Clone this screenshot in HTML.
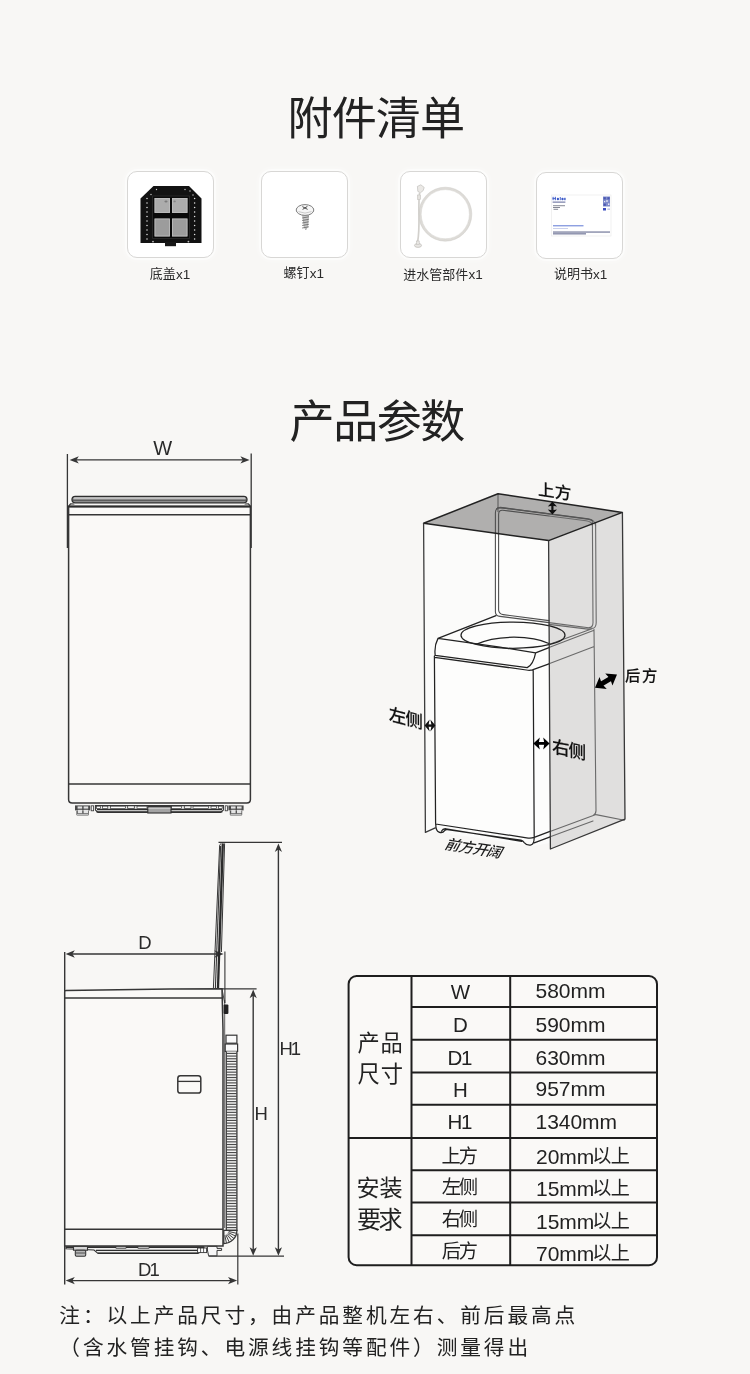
<!DOCTYPE html>
<html lang="zh-CN"><head><meta charset="utf-8"><title>附件清单 / 产品参数</title>
<style>
html,body{margin:0;padding:0;background:#f8f7f5;}
body{width:750px;height:1374px;position:relative;overflow:hidden;font-family:"Liberation Sans","Noto Sans CJK SC",sans-serif;}
ul{margin:0;padding:0;list-style:none;}
.card{position:absolute;width:87px;height:87px;background:#fff;border:1.5px solid #d8d7d5;border-radius:10px;box-shadow:0 0 0 2px rgba(255,255,255,.45),0 0 7px 2px rgba(255,255,255,.5);box-sizing:border-box;}
.sr{position:absolute;width:1px;height:1px;margin:-1px;padding:0;overflow:hidden;clip:rect(0 0 0 0);clip-path:inset(50%);white-space:nowrap;border:0;font-size:1px;color:transparent;}
svg.main{position:absolute;left:0;top:0;will-change:transform;}
svg text{font-family:"Liberation Sans","Noto Sans CJK SC",sans-serif;}
</style></head><body>
<section aria-label="附件清单"><h1 class="sr">附件清单</h1><ul><li class="card" style="left:127.4px;top:171.3px"><span class="sr">底盖x1</span></li><li class="card" style="left:261.4px;top:171.3px"><span class="sr">螺钉x1</span></li><li class="card" style="left:400.2px;top:171.3px"><span class="sr">进水管部件x1</span></li><li class="card" style="left:536.4px;top:171.8px"><span class="sr">说明书x1</span></li></ul></section>
<section aria-label="产品参数"><h1 class="sr">产品参数</h1><table class="sr"><caption>产品参数</caption>
<tr><th rowspan="5">产品尺寸</th><td>W</td><td>580mm</td></tr>
<tr><td>D</td><td>590mm</td></tr><tr><td>D1</td><td>630mm</td></tr>
<tr><td>H</td><td>957mm</td></tr><tr><td>H1</td><td>1340mm</td></tr>
<tr><th rowspan="4">安装要求</th><td>上方</td><td>20mm以上</td></tr>
<tr><td>左侧</td><td>15mm以上</td></tr><tr><td>右侧</td><td>15mm以上</td></tr>
<tr><td>后方</td><td>70mm以上</td></tr></table>
<p class="sr">注：以上产品尺寸，由产品整机左右、前后最高点（含水管挂钩、电源线挂钩等配件）测量得出</p></section>
<svg class="main" role="img" aria-label="附件清单与产品参数示意图" width="750" height="1374" viewBox="0 0 750 1374">
<text x="287.46" y="135.39" font-size="45.11" fill="#222" textLength="177.65" lengthAdjust="spacing">附件清单</text>
<text x="289.62" y="438.08" font-size="45.06" fill="#222" textLength="175.64" lengthAdjust="spacing">产品参数</text>
<text x="149.80" y="278.46" font-size="13" fill="#2b2b2b">底盖</text>
<text x="176.0" y="278.7" font-size="13.5" fill="#2b2b2b" textLength="14.26" lengthAdjust="spacing">x1</text>
<text x="283.47" y="277.39" font-size="13" fill="#2b2b2b">螺钉</text>
<text x="309.67" y="277.9" font-size="13.5" fill="#2b2b2b" textLength="14.26" lengthAdjust="spacing">x1</text>
<text x="403.31" y="278.97" font-size="13" fill="#2b2b2b">进水管部件</text>
<text x="468.51" y="279.4" font-size="13.5" fill="#2b2b2b" textLength="14.26" lengthAdjust="spacing">x1</text>
<text x="553.91" y="278.21" font-size="13" fill="#2b2b2b">说明书</text>
<text x="593.12" y="278.7" font-size="13.5" fill="#2b2b2b" textLength="14.26" lengthAdjust="spacing">x1</text>
<path d="M153.5,186 L189,186 L201.5,198.5 L201.5,243 L140.5,243 L140.5,198.5 Z" fill="#121212"/><rect x="165" y="242" width="11" height="4.2" fill="#181818"/><rect x="152.6" y="196" width="36.8" height="42.4" fill="#0a0a0a" stroke="#2e2e2e" stroke-width="0.8"/><rect x="154.5" y="198" width="15.5" height="15" fill="#acacac"/><rect x="155.0" y="198.5" width="14.5" height="14" fill="none" stroke="#c2c2c2" stroke-width="0.7"/><rect x="172" y="198" width="15.5" height="15" fill="#acacac"/><rect x="172.5" y="198.5" width="14.5" height="14" fill="none" stroke="#c2c2c2" stroke-width="0.7"/><rect x="154.5" y="218.5" width="15.5" height="18" fill="#9c9c9c"/><rect x="155.0" y="219.0" width="14.5" height="17" fill="none" stroke="#c2c2c2" stroke-width="0.7"/><rect x="172" y="218.5" width="15.5" height="18" fill="#9c9c9c"/><rect x="172.5" y="219.0" width="14.5" height="17" fill="none" stroke="#c2c2c2" stroke-width="0.7"/><ellipse cx="166" cy="201.6" rx="1.6" ry="1" fill="#7c7c7c"/><ellipse cx="174.6" cy="201.4" rx="1.2" ry="0.9" fill="#858585"/><circle cx="147" cy="198.6" r="0.75" fill="#e2e2e2"/><circle cx="194.6" cy="198.6" r="0.75" fill="#e2e2e2"/><circle cx="147" cy="203.1" r="0.75" fill="#e2e2e2"/><circle cx="194.6" cy="203.1" r="0.75" fill="#e2e2e2"/><circle cx="147" cy="207.6" r="0.75" fill="#e2e2e2"/><circle cx="194.6" cy="207.6" r="0.75" fill="#e2e2e2"/><circle cx="147" cy="212.1" r="0.75" fill="#e2e2e2"/><circle cx="194.6" cy="212.1" r="0.75" fill="#e2e2e2"/><circle cx="147" cy="216.6" r="0.75" fill="#e2e2e2"/><circle cx="194.6" cy="216.6" r="0.75" fill="#e2e2e2"/><circle cx="147" cy="221.1" r="0.75" fill="#e2e2e2"/><circle cx="194.6" cy="221.1" r="0.75" fill="#e2e2e2"/><circle cx="147" cy="225.6" r="0.75" fill="#e2e2e2"/><circle cx="194.6" cy="225.6" r="0.75" fill="#e2e2e2"/><circle cx="147" cy="230.1" r="0.75" fill="#e2e2e2"/><circle cx="194.6" cy="230.1" r="0.75" fill="#e2e2e2"/><circle cx="147" cy="234.6" r="0.75" fill="#e2e2e2"/><circle cx="194.6" cy="234.6" r="0.75" fill="#e2e2e2"/><circle cx="147" cy="239.1" r="0.75" fill="#e2e2e2"/><circle cx="194.6" cy="239.1" r="0.75" fill="#e2e2e2"/><circle cx="156.5" cy="189.5" r="0.7" fill="#cfcfcf"/><circle cx="151" cy="194.5" r="0.7" fill="#cfcfcf"/><circle cx="185" cy="189.5" r="0.7" fill="#cfcfcf"/><circle cx="190" cy="191" r="0.7" fill="#cfcfcf"/><circle cx="193" cy="195" r="0.7" fill="#cfcfcf"/><circle cx="153" cy="241.6" r="0.9" fill="#bdbdbd"/><circle cx="188.4" cy="241.6" r="0.9" fill="#bdbdbd"/>
<path d="M302.6,215 L308.6,215 L307.6,226.6 L305.8,230 L304.2,226.6 Z" fill="#c9c9c9" stroke="#9a9a9a" stroke-width="0.6"/><line x1="302.2" y1="218.0" x2="308.8" y2="216.8" stroke="#6f6f6f" stroke-width="0.9"/><line x1="302.2" y1="220.5" x2="308.8" y2="219.3" stroke="#6f6f6f" stroke-width="0.9"/><line x1="302.2" y1="223.0" x2="308.8" y2="221.8" stroke="#6f6f6f" stroke-width="0.9"/><line x1="302.2" y1="225.5" x2="308.8" y2="224.3" stroke="#6f6f6f" stroke-width="0.9"/><line x1="302.2" y1="228.0" x2="308.8" y2="226.8" stroke="#6f6f6f" stroke-width="0.9"/><ellipse cx="305" cy="210" rx="8.8" ry="5.4" fill="#f6f6f6" stroke="#7d7d7d" stroke-width="1"/><path d="M298.4,211.6 Q305,214.6 311.6,211.6" fill="none" stroke="#bdbdbd" stroke-width="0.8"/><path d="M302.4,206.6 L307.6,209.4 M307.4,206.4 L302.6,209.4" stroke="#4a4a4a" stroke-width="1"/>
<ellipse cx="445.3" cy="214.2" rx="25.3" ry="25.8" fill="none" stroke="#dddbd7" stroke-width="2.3"/><ellipse cx="445.3" cy="214.2" rx="26.5" ry="27" fill="none" stroke="#c9c7c3" stroke-width="0.45"/><ellipse cx="445.3" cy="214.2" rx="24.1" ry="24.6" fill="none" stroke="#cfcdc9" stroke-width="0.45"/><path d="M419.6,193 C417.6,206 420.6,226 417.6,242" fill="none" stroke="#d2d0cc" stroke-width="1.7"/><path d="M417.4,186.4 l3.4,-1.6 l3.4,2.6 l-1,3.2 l-2.8,2.2 l-2.6,-1.4 z" fill="#ebe9e6" stroke="#b9b7b3" stroke-width="0.6"/><rect x="417.4" y="195" width="3.2" height="4.6" fill="#e4e2de" stroke="#c0beba" stroke-width="0.5"/><ellipse cx="418" cy="245.4" rx="3.5" ry="2" fill="#e8e6e3" stroke="#b5b3af" stroke-width="0.6"/><rect x="416.6" y="241" width="2.6" height="3.4" fill="#e8e6e3" stroke="#bbb9b5" stroke-width="0.5"/>
<rect x="551.5" y="195" width="59.5" height="41" fill="#fff" stroke="#ececec" stroke-width="0.7"/><g fill="#3a58c8"><rect x="552.6" y="196.8" width="1" height="3.4"/><rect x="554.8" y="196.8" width="1" height="3.4"/><rect x="552.6" y="198.1" width="3.2" height="0.8"/><rect x="556.8" y="197.8" width="2.2" height="2.4" rx="1"/><rect x="559.8" y="197" width="0.9" height="3.2"/><rect x="561.4" y="197.8" width="2.2" height="2.4" rx="1"/><rect x="564.2" y="197.8" width="1.4" height="2.4"/></g><rect x="552.6" y="201.6" width="12.8" height="1" fill="#5a6296"/><rect x="553" y="205.3" width="12" height="0.9" fill="#777a88"/><rect x="553" y="207" width="7" height="0.9" fill="#777a88"/><rect x="553.5" y="208.8" width="4.6" height="0.9" fill="#777a88"/><rect x="603" y="196.5" width="7" height="10" fill="#7f8bcb"/><rect x="603.6" y="197.2" width="2.2" height="2.2" fill="#4a58b2"/><rect x="607.4" y="197.2" width="2.2" height="2.2" fill="#4a58b2"/><rect x="603.6" y="203.6" width="2.2" height="2.2" fill="#4a58b2"/><rect x="606.2" y="200.2" width="1.6" height="1.6" fill="#e8eaf6"/><rect x="604" y="201" width="1.2" height="1.2" fill="#e8eaf6"/><rect x="608" y="203.4" width="1.4" height="1.6" fill="#e8eaf6"/><rect x="603" y="208" width="3" height="2.5" fill="#3b4cc0"/><rect x="607.4" y="208.4" width="2.6" height="1.6" fill="#c5c9e6"/><rect x="553" y="225.3" width="30.5" height="1" fill="#5f78d4"/><rect x="553" y="228" width="15" height="0.7" fill="#b4bce4"/><rect x="553" y="231.5" width="57" height="1.1" fill="#666c90"/><rect x="553" y="233.3" width="33" height="1.1" fill="#666c90"/>
<line x1="67.4" y1="454" x2="67.4" y2="548" stroke="#363636" stroke-width="1.3"/><line x1="251.2" y1="453.6" x2="251.2" y2="548" stroke="#363636" stroke-width="1.3"/><line x1="75.12" y1="459.90" x2="244.08" y2="459.90" stroke="#363636" stroke-width="1.4"/><path d="M249.60,459.90 L240.40,463.60 L242.80,459.90 L240.40,456.20 Z" fill="#363636"/><path d="M69.60,459.90 L78.80,463.60 L76.40,459.90 L78.80,456.20 Z" fill="#363636"/><text x="162.8" y="455.2" font-size="20" fill="#2a2a2a" text-anchor="middle">W</text><path d="M68.6,506.5 L250.4,506.5 L250.4,799.5 Q250.4,803 246.8,803 L72.2,803 Q68.6,803 68.6,799.5 Z" fill="#faf9f7" stroke="#363636" stroke-width="1.5"/><line x1="68.2" y1="506.5" x2="250.8" y2="506.5" stroke="#2c2c2c" stroke-width="1.9"/><line x1="68.6" y1="514.8" x2="250.4" y2="514.8" stroke="#363636" stroke-width="1.4"/><line x1="68.6" y1="784" x2="250.4" y2="784" stroke="#363636" stroke-width="1.6"/><rect x="72" y="496.4" width="175" height="6.4" rx="3.2" fill="#8c8c8c" stroke="#2e2e2e" stroke-width="1.3"/><rect x="73.6" y="497.2" width="171.8" height="2.4" rx="1.2" fill="#c2c2c2"/><line x1="73" y1="500.2" x2="246" y2="500.2" stroke="#484848" stroke-width="1"/><path d="M68.8,506 L70.6,503.8 L74.4,504 M250.2,506 L248.4,503.8 L244.6,504" fill="none" stroke="#363636" stroke-width="1.2"/><rect x="75" y="805.4" width="15.2" height="5" fill="#4a4a4a"/><rect x="76.4" y="810.4" width="12.4" height="5.2" rx="1" fill="#555"/><rect x="77.6" y="806.4" width="4.6" height="2.2" fill="#e4e4e4"/><rect x="83.6" y="806.4" width="4.6" height="2.2" fill="#e4e4e4"/><rect x="77.8" y="809.8" width="4.4" height="3.4" fill="#e4e4e4"/><rect x="83.6" y="809.8" width="4.4" height="3.4" fill="#e4e4e4"/><rect x="77" y="813.8" width="11.2" height="1.4" fill="#bdbdbd"/><rect x="228.4" y="805.4" width="15.2" height="5" fill="#4a4a4a"/><rect x="229.8" y="810.4" width="12.4" height="5.2" rx="1" fill="#555"/><rect x="231.0" y="806.4" width="4.6" height="2.2" fill="#e4e4e4"/><rect x="237.0" y="806.4" width="4.6" height="2.2" fill="#e4e4e4"/><rect x="231.2" y="809.8" width="4.4" height="3.4" fill="#e4e4e4"/><rect x="237.0" y="809.8" width="4.4" height="3.4" fill="#e4e4e4"/><rect x="230.4" y="813.8" width="11.2" height="1.4" fill="#bdbdbd"/><rect x="91.2" y="805.8" width="2.4" height="5" fill="#f4f4f4" stroke="#363636" stroke-width="0.8"/><rect x="225.2" y="805.8" width="2.4" height="5" fill="#f4f4f4" stroke="#363636" stroke-width="0.8"/><path d="M95.4,805.6 L223.4,805.6 L223.4,810 L220.6,812.4 L98,812.4 L95.4,810 Z" fill="#f4f4f3" stroke="#363636" stroke-width="1.1"/><line x1="97" y1="809.4" x2="222" y2="809.4" stroke="#2e2e2e" stroke-width="1.5"/><line x1="96.4" y1="811.9" x2="222.4" y2="811.9" stroke="#2e2e2e" stroke-width="1.2"/><rect x="96.6" y="806.2" width="3.8000000000000114" height="2.4" fill="#fdfdfd" stroke="#363636" stroke-width="0.7"/><rect x="102.4" y="806.2" width="5.3999999999999915" height="2.4" fill="#fdfdfd" stroke="#363636" stroke-width="0.7"/><rect x="110.4" y="806.2" width="15.199999999999989" height="2.4" fill="#fdfdfd" stroke="#363636" stroke-width="0.7"/><rect x="137" y="806.2" width="10" height="2.4" fill="#fdfdfd" stroke="#363636" stroke-width="0.7"/><rect x="171.6" y="806.2" width="10.0" height="2.4" fill="#fdfdfd" stroke="#363636" stroke-width="0.7"/><rect x="193" y="806.2" width="15.400000000000006" height="2.4" fill="#fdfdfd" stroke="#363636" stroke-width="0.7"/><rect x="211" y="806.2" width="5.400000000000006" height="2.4" fill="#fdfdfd" stroke="#363636" stroke-width="0.7"/><rect x="218.4" y="806.2" width="3.799999999999983" height="2.4" fill="#fdfdfd" stroke="#363636" stroke-width="0.7"/><path d="M127.6,806 L127.6,808.6 L134.4,808.6 L134.4,806 M184.4,806 L184.4,808.6 L191,808.6 L191,806" fill="none" stroke="#363636" stroke-width="0.8"/><rect x="147.8" y="806.6" width="23.2" height="6.4" fill="#a4a4a4" stroke="#2e2e2e" stroke-width="1.1"/><line x1="148.4" y1="808.4" x2="170.4" y2="808.4" stroke="#d0d0d0" stroke-width="0.9"/>
<line x1="218.5" y1="842.4" x2="282" y2="842.4" stroke="#363636" stroke-width="1.3"/><line x1="278.40" y1="848.56" x2="278.40" y2="1250.64" stroke="#363636" stroke-width="1.4"/><path d="M278.40,1255.80 L274.80,1247.20 L278.40,1249.60 L282.00,1247.20 Z" fill="#363636"/><path d="M278.40,843.40 L274.80,852.00 L278.40,849.60 L282.00,852.00 Z" fill="#363636"/><line x1="222" y1="988.8" x2="256.6" y2="988.8" stroke="#363636" stroke-width="1.3"/><line x1="253.20" y1="994.76" x2="253.20" y2="1250.64" stroke="#363636" stroke-width="1.4"/><path d="M253.20,1255.80 L249.60,1247.20 L253.20,1249.60 L256.80,1247.20 Z" fill="#363636"/><path d="M253.20,989.60 L249.60,998.20 L253.20,995.80 L256.80,998.20 Z" fill="#363636"/><line x1="208.6" y1="1256.2" x2="284" y2="1256.2" stroke="#363636" stroke-width="1.3"/><text x="279.4" y="1054.8" font-size="18.5" fill="#2a2a2a" textLength="21.75" lengthAdjust="spacing">H1</text><text x="254.6" y="1119.8" font-size="18.5" fill="#2a2a2a">H</text><line x1="71.12" y1="954.00" x2="218.08" y2="954.00" stroke="#363636" stroke-width="1.4"/><path d="M223.60,954.00 L214.40,957.70 L216.80,954.00 L214.40,950.30 Z" fill="#363636"/><path d="M65.60,954.00 L74.80,957.70 L72.40,954.00 L74.80,950.30 Z" fill="#363636"/><line x1="224.9" y1="951.4" x2="224.9" y2="1003" stroke="#363636" stroke-width="1.1"/><path d="M222,989 L224.7,1003" stroke="#363636" stroke-width="0.9"/><text x="145" y="948.6" font-size="18.5" fill="#2a2a2a" text-anchor="middle">D</text><line x1="71.12" y1="1280.60" x2="231.68" y2="1280.60" stroke="#363636" stroke-width="1.4"/><path d="M237.20,1280.60 L228.00,1284.30 L230.40,1280.60 L228.00,1276.90 Z" fill="#363636"/><path d="M65.60,1280.60 L74.80,1284.30 L72.40,1280.60 L74.80,1276.90 Z" fill="#363636"/><line x1="237.8" y1="1233.4" x2="237.8" y2="1284.4" stroke="#363636" stroke-width="1.2"/><text x="138" y="1275.8" font-size="18.5" fill="#2a2a2a" textLength="21.75" lengthAdjust="spacing">D1</text><path d="M64.7,952 L64.7,1284.4" stroke="#363636" stroke-width="1.4"/><path d="M64.7,991.6 Q64.7,990.4 66,990.4 L170,989 L222,988.8 L223,1030 L223,1246 L64.7,1246 Z" fill="#faf9f7" stroke="#363636" stroke-width="1.5"/><line x1="64.7" y1="998" x2="223" y2="998" stroke="#363636" stroke-width="1.4"/><line x1="64.7" y1="1229.2" x2="223" y2="1229.2" stroke="#363636" stroke-width="1.4"/><line x1="224.7" y1="1000" x2="224.7" y2="1228" stroke="#363636" stroke-width="0.8"/><path d="M222.8,843.4 L218,988" stroke="#2a2a2a" stroke-width="2.3"/><path d="M221.2,843.5 Q219.8,844 219.6,846 L213.4,988" fill="none" stroke="#363636" stroke-width="1"/><path d="M224.6,843.4 L221.4,952" stroke="#363636" stroke-width="1"/><path d="M220.6,846 L215.4,988" stroke="#363636" stroke-width="1.1"/><rect x="177.8" y="1075.8" width="23" height="17.2" rx="2.6" fill="none" stroke="#363636" stroke-width="1.5"/><line x1="178" y1="1081.4" x2="200.6" y2="1081.4" stroke="#363636" stroke-width="1.3"/><rect x="223.6" y="1004.5" width="4.8" height="9.5" rx="1" fill="#222"/><rect x="226" y="1035.2" width="10.9" height="8" fill="#fafafa" stroke="#363636" stroke-width="1.2"/><rect x="225.2" y="1044" width="12.4" height="7.4" fill="#fafafa" stroke="#363636" stroke-width="1.2"/><rect x="226.3" y="1051.4" width="10.5" height="179" fill="#f4f4f3" stroke="none"/><line x1="226.6" y1="1053.40" x2="236.6" y2="1053.40" stroke="#4a4a4a" stroke-width="1.15"/><line x1="226.6" y1="1056.08" x2="236.6" y2="1056.08" stroke="#4a4a4a" stroke-width="1.15"/><line x1="226.6" y1="1058.76" x2="236.6" y2="1058.76" stroke="#4a4a4a" stroke-width="1.15"/><line x1="226.6" y1="1061.44" x2="236.6" y2="1061.44" stroke="#4a4a4a" stroke-width="1.15"/><line x1="226.6" y1="1064.12" x2="236.6" y2="1064.12" stroke="#4a4a4a" stroke-width="1.15"/><line x1="226.6" y1="1066.80" x2="236.6" y2="1066.80" stroke="#4a4a4a" stroke-width="1.15"/><line x1="226.6" y1="1069.48" x2="236.6" y2="1069.48" stroke="#4a4a4a" stroke-width="1.15"/><line x1="226.6" y1="1072.16" x2="236.6" y2="1072.16" stroke="#4a4a4a" stroke-width="1.15"/><line x1="226.6" y1="1074.84" x2="236.6" y2="1074.84" stroke="#4a4a4a" stroke-width="1.15"/><line x1="226.6" y1="1077.52" x2="236.6" y2="1077.52" stroke="#4a4a4a" stroke-width="1.15"/><line x1="226.6" y1="1080.20" x2="236.6" y2="1080.20" stroke="#4a4a4a" stroke-width="1.15"/><line x1="226.6" y1="1082.88" x2="236.6" y2="1082.88" stroke="#4a4a4a" stroke-width="1.15"/><line x1="226.6" y1="1085.56" x2="236.6" y2="1085.56" stroke="#4a4a4a" stroke-width="1.15"/><line x1="226.6" y1="1088.24" x2="236.6" y2="1088.24" stroke="#4a4a4a" stroke-width="1.15"/><line x1="226.6" y1="1090.92" x2="236.6" y2="1090.92" stroke="#4a4a4a" stroke-width="1.15"/><line x1="226.6" y1="1093.60" x2="236.6" y2="1093.60" stroke="#4a4a4a" stroke-width="1.15"/><line x1="226.6" y1="1096.28" x2="236.6" y2="1096.28" stroke="#4a4a4a" stroke-width="1.15"/><line x1="226.6" y1="1098.96" x2="236.6" y2="1098.96" stroke="#4a4a4a" stroke-width="1.15"/><line x1="226.6" y1="1101.64" x2="236.6" y2="1101.64" stroke="#4a4a4a" stroke-width="1.15"/><line x1="226.6" y1="1104.32" x2="236.6" y2="1104.32" stroke="#4a4a4a" stroke-width="1.15"/><line x1="226.6" y1="1107.00" x2="236.6" y2="1107.00" stroke="#4a4a4a" stroke-width="1.15"/><line x1="226.6" y1="1109.68" x2="236.6" y2="1109.68" stroke="#4a4a4a" stroke-width="1.15"/><line x1="226.6" y1="1112.36" x2="236.6" y2="1112.36" stroke="#4a4a4a" stroke-width="1.15"/><line x1="226.6" y1="1115.04" x2="236.6" y2="1115.04" stroke="#4a4a4a" stroke-width="1.15"/><line x1="226.6" y1="1117.72" x2="236.6" y2="1117.72" stroke="#4a4a4a" stroke-width="1.15"/><line x1="226.6" y1="1120.40" x2="236.6" y2="1120.40" stroke="#4a4a4a" stroke-width="1.15"/><line x1="226.6" y1="1123.08" x2="236.6" y2="1123.08" stroke="#4a4a4a" stroke-width="1.15"/><line x1="226.6" y1="1125.76" x2="236.6" y2="1125.76" stroke="#4a4a4a" stroke-width="1.15"/><line x1="226.6" y1="1128.44" x2="236.6" y2="1128.44" stroke="#4a4a4a" stroke-width="1.15"/><line x1="226.6" y1="1131.12" x2="236.6" y2="1131.12" stroke="#4a4a4a" stroke-width="1.15"/><line x1="226.6" y1="1133.80" x2="236.6" y2="1133.80" stroke="#4a4a4a" stroke-width="1.15"/><line x1="226.6" y1="1136.48" x2="236.6" y2="1136.48" stroke="#4a4a4a" stroke-width="1.15"/><line x1="226.6" y1="1139.16" x2="236.6" y2="1139.16" stroke="#4a4a4a" stroke-width="1.15"/><line x1="226.6" y1="1141.84" x2="236.6" y2="1141.84" stroke="#4a4a4a" stroke-width="1.15"/><line x1="226.6" y1="1144.52" x2="236.6" y2="1144.52" stroke="#4a4a4a" stroke-width="1.15"/><line x1="226.6" y1="1147.20" x2="236.6" y2="1147.20" stroke="#4a4a4a" stroke-width="1.15"/><line x1="226.6" y1="1149.88" x2="236.6" y2="1149.88" stroke="#4a4a4a" stroke-width="1.15"/><line x1="226.6" y1="1152.56" x2="236.6" y2="1152.56" stroke="#4a4a4a" stroke-width="1.15"/><line x1="226.6" y1="1155.24" x2="236.6" y2="1155.24" stroke="#4a4a4a" stroke-width="1.15"/><line x1="226.6" y1="1157.92" x2="236.6" y2="1157.92" stroke="#4a4a4a" stroke-width="1.15"/><line x1="226.6" y1="1160.60" x2="236.6" y2="1160.60" stroke="#4a4a4a" stroke-width="1.15"/><line x1="226.6" y1="1163.28" x2="236.6" y2="1163.28" stroke="#4a4a4a" stroke-width="1.15"/><line x1="226.6" y1="1165.96" x2="236.6" y2="1165.96" stroke="#4a4a4a" stroke-width="1.15"/><line x1="226.6" y1="1168.64" x2="236.6" y2="1168.64" stroke="#4a4a4a" stroke-width="1.15"/><line x1="226.6" y1="1171.32" x2="236.6" y2="1171.32" stroke="#4a4a4a" stroke-width="1.15"/><line x1="226.6" y1="1174.00" x2="236.6" y2="1174.00" stroke="#4a4a4a" stroke-width="1.15"/><line x1="226.6" y1="1176.68" x2="236.6" y2="1176.68" stroke="#4a4a4a" stroke-width="1.15"/><line x1="226.6" y1="1179.36" x2="236.6" y2="1179.36" stroke="#4a4a4a" stroke-width="1.15"/><line x1="226.6" y1="1182.04" x2="236.6" y2="1182.04" stroke="#4a4a4a" stroke-width="1.15"/><line x1="226.6" y1="1184.72" x2="236.6" y2="1184.72" stroke="#4a4a4a" stroke-width="1.15"/><line x1="226.6" y1="1187.40" x2="236.6" y2="1187.40" stroke="#4a4a4a" stroke-width="1.15"/><line x1="226.6" y1="1190.08" x2="236.6" y2="1190.08" stroke="#4a4a4a" stroke-width="1.15"/><line x1="226.6" y1="1192.76" x2="236.6" y2="1192.76" stroke="#4a4a4a" stroke-width="1.15"/><line x1="226.6" y1="1195.44" x2="236.6" y2="1195.44" stroke="#4a4a4a" stroke-width="1.15"/><line x1="226.6" y1="1198.12" x2="236.6" y2="1198.12" stroke="#4a4a4a" stroke-width="1.15"/><line x1="226.6" y1="1200.80" x2="236.6" y2="1200.80" stroke="#4a4a4a" stroke-width="1.15"/><line x1="226.6" y1="1203.48" x2="236.6" y2="1203.48" stroke="#4a4a4a" stroke-width="1.15"/><line x1="226.6" y1="1206.16" x2="236.6" y2="1206.16" stroke="#4a4a4a" stroke-width="1.15"/><line x1="226.6" y1="1208.84" x2="236.6" y2="1208.84" stroke="#4a4a4a" stroke-width="1.15"/><line x1="226.6" y1="1211.52" x2="236.6" y2="1211.52" stroke="#4a4a4a" stroke-width="1.15"/><line x1="226.6" y1="1214.20" x2="236.6" y2="1214.20" stroke="#4a4a4a" stroke-width="1.15"/><line x1="226.6" y1="1216.88" x2="236.6" y2="1216.88" stroke="#4a4a4a" stroke-width="1.15"/><line x1="226.6" y1="1219.56" x2="236.6" y2="1219.56" stroke="#4a4a4a" stroke-width="1.15"/><line x1="226.6" y1="1222.24" x2="236.6" y2="1222.24" stroke="#4a4a4a" stroke-width="1.15"/><line x1="226.6" y1="1224.92" x2="236.6" y2="1224.92" stroke="#4a4a4a" stroke-width="1.15"/><line x1="226.6" y1="1227.60" x2="236.6" y2="1227.60" stroke="#4a4a4a" stroke-width="1.15"/><line x1="226.6" y1="1230.28" x2="236.6" y2="1230.28" stroke="#4a4a4a" stroke-width="1.15"/><line x1="226.3" y1="1051.4" x2="226.3" y2="1230" stroke="#363636" stroke-width="1.2"/><line x1="236.9" y1="1051.4" x2="236.9" y2="1231" stroke="#363636" stroke-width="1.3"/><path d="M236.9,1230.4 A13.1,13.1 0 0 1 223.8,1243.5 L223.8,1230.4 Z" fill="#f4f4f3" stroke="#363636" stroke-width="1.3"/><line x1="228.7" y1="1231.5" x2="236.6" y2="1233.3" stroke="#444" stroke-width="1"/><line x1="228.3" y1="1232.6" x2="235.6" y2="1236.1" stroke="#444" stroke-width="1"/><line x1="227.7" y1="1233.5" x2="234.0" y2="1238.6" stroke="#444" stroke-width="1"/><line x1="226.9" y1="1234.3" x2="231.9" y2="1240.7" stroke="#444" stroke-width="1"/><line x1="225.9" y1="1234.9" x2="229.3" y2="1242.3" stroke="#444" stroke-width="1"/><line x1="224.8" y1="1235.3" x2="226.5" y2="1243.2" stroke="#444" stroke-width="1"/><path d="M66,1247 L204,1247 L204,1250 L198,1253.4 L98,1253.4 L94,1250 L66,1248.8 Z" fill="#efefee" stroke="#363636" stroke-width="1.1"/><line x1="66" y1="1247.2" x2="204" y2="1247.2" stroke="#2e2e2e" stroke-width="1.5"/><line x1="96" y1="1250.4" x2="201" y2="1250.4" stroke="#2e2e2e" stroke-width="1.2"/><line x1="98" y1="1253.2" x2="198" y2="1253.2" stroke="#2e2e2e" stroke-width="1.3"/><rect x="116" y="1246.6" width="10" height="1.8" fill="#bbb" stroke="#363636" stroke-width="0.6"/><rect x="138" y="1246.6" width="11" height="1.8" fill="#bbb" stroke="#363636" stroke-width="0.6"/><rect x="73.5" y="1246.4" width="14" height="3.8" fill="#d6d6d6" stroke="#363636" stroke-width="1.1"/><rect x="75.3" y="1250.2" width="10.4" height="6" rx="1.2" fill="#b8b8b8" stroke="#363636" stroke-width="1.1"/><line x1="76" y1="1253" x2="85" y2="1253" stroke="#363636" stroke-width="0.8"/><path d="M207.4,1246.4 L217,1246.4 L217,1248.4 L221.6,1248.4 L221.6,1250.4 L217,1250.4 L217,1255.8 L208.6,1255.8 L207.4,1250 Z" fill="#f6f6f6" stroke="#363636" stroke-width="1"/><rect x="197.6" y="1248" width="9" height="4.6" fill="#fff" stroke="#363636" stroke-width="0.9"/><line x1="200.6" y1="1248" x2="200.6" y2="1252.6" stroke="#363636" stroke-width="0.8"/><line x1="203.6" y1="1248" x2="203.6" y2="1252.6" stroke="#363636" stroke-width="0.8"/>
<path d="M423.6,523.2 L548.6,540.6 L549.6,843 L534.4,846 L436,832 L425.4,832.4 Z" fill="#fbfbfa"/><path d="M434.4,656 Q434.4,645 438,638.4 L496,616 L496,512 L549,518 L549.6,832 L534.4,843 L436,824 Z" fill="#fdfdfc"/><path d="M423.6,523.2 L498,493.8 L622.4,512.4 L548.6,540.6 Z" fill="#b0afae"/><path d="M548.6,540.6 L622.4,512.4 L625,819.2 L550.4,849 Z" fill="#e0dfde"/><path d="M549,622.6 L592.4,628.2 M549,624.4 L590,629.4 M592.4,521.4 L593,622.6 Q593,627.6 589,627.6 M595.6,523 L596.2,622.4 Q596.2,628.6 591.6,628.4 M549,647.6 L593.4,630.4 M549,644.4 L592,628.8 M549,663.8 L594.2,646.4 M594,629.4 L596,810.6 Q596,814 593.2,815.4 M550,831.4 L596,814.4 M550.2,836.8 L593,821 M596,814.6 L624.4,820.2" fill="none" stroke="#6a6a6a" stroke-width="1.1" stroke-linecap="round"/><ellipse cx="513" cy="635.2" rx="52" ry="13.1" fill="none" stroke="#222" stroke-width="1.25"/><path d="M476,644.4 C488,638.8 500,637.2 514,637.2 C528,637.2 540,639.2 549.6,643.8" fill="none" stroke="#222" stroke-width="1.25"/><path d="M438,638.4 L496,615.6 M438,638.4 L500,647.2 L535.6,652.8 M535.6,652.8 C534.6,658 533.2,664.6 527.2,667.6 L435.2,655.4 Q434,646 438,638.4 M434.6,657.4 L526.4,670 Q530,670.6 532.4,669.8 L549,663.8 M535.6,652.8 L549,647.6 M434.4,656 L435.6,823.6 M533.2,670 L534.2,838 M435.6,824 L526.6,837.8 Q531,838.4 534.2,837.4 L550,831.4 M435.8,824 Q435.6,831 439,832.2 Q442.6,833.6 444.6,830.6 Q445.8,829.2 447.4,829.6 L521,840.2 Q523,840.6 524.2,842.6 Q526.6,845.6 530.4,845.2 Q534,844.6 534.2,838 M441.4,831.2 Q443,828.4 446,828.8 L521.8,841.4 M534.2,842.8 L550.2,836.8" fill="none" stroke="#222" stroke-width="1.25" stroke-linecap="round" stroke-linejoin="round"/><path d="M495.4,612 L495.4,513 Q495.4,507.4 500.4,507.6 L549,513.8 M498.6,610 L498.6,514.6 Q498.6,510 502.6,510.2 L549,516 M495.4,612 Q495.6,616 500,616.4 L549,622.6 M498.6,610 Q499,614 503.2,614.6 L549,620.6" fill="none" stroke="#505050" stroke-width="1.1" stroke-linecap="round" stroke-linejoin="round"/><path d="M549,513.8 L588,519 Q595.4,520 595.6,526 M549,516 L586,520.8 Q592.2,521.6 592.4,526" fill="none" stroke="#6a6a6a" stroke-width="1.1"/><path d="M498,494 L498,512" stroke="#555" stroke-width="1"/><path d="M496.6,509.4 Q497.6,507.6 500.4,507.6 L588,519 Q591,519.4 593,521" fill="none" stroke="#555" stroke-width="1.5"/><path d="M423.6,523.2 L498,493.8 L622.4,512.4 L548.6,540.6 Z" fill="none" stroke="#222" stroke-width="1.5" stroke-linejoin="round"/><path d="M548.6,540.6 L550.4,849 L625,819.2 L622.4,512.4" fill="none" stroke="#383838" stroke-width="1.3" stroke-linejoin="round"/><path d="M423.6,523.2 L425.4,832.4 L435.8,827.6" fill="none" stroke="#3c3c3c" stroke-width="1.3" stroke-linejoin="round"/><line x1="552.40" y1="504.52" x2="552.40" y2="511.48" stroke="#111" stroke-width="2.2"/><path d="M552.40,514.60 L547.80,509.40 L552.40,510.20 L557.00,509.40 Z" fill="#111"/><path d="M552.40,501.40 L547.80,506.60 L552.40,505.80 L557.00,506.60 Z" fill="#111"/><line x1="427.60" y1="725.60" x2="432.40" y2="725.60" stroke="#111" stroke-width="2.4"/><path d="M435.40,725.60 L430.40,731.60 L431.60,725.60 L430.40,719.60 Z" fill="#111"/><path d="M424.60,725.60 L429.60,731.60 L428.40,725.60 L429.60,719.60 Z" fill="#111"/><line x1="537.24" y1="743.40" x2="545.76" y2="743.40" stroke="#000" stroke-width="2.8"/><path d="M549.60,743.40 L543.20,749.40 L544.40,743.40 L543.20,737.40 Z" fill="#000"/><path d="M533.40,743.40 L539.80,749.40 L538.60,743.40 L539.80,737.40 Z" fill="#000"/><line x1="599.89" y1="684.87" x2="612.11" y2="677.53" stroke="#000" stroke-width="5"/><path d="M617.00,674.60 L612.46,685.49 L610.14,678.72 L605.25,673.49 Z" fill="#000"/><path d="M595.00,687.80 L606.75,688.91 L601.86,683.68 L599.54,676.91 Z" fill="#000"/>
<g transform="translate(554.5,491) skewY(8.5) translate(-554.5,-491)"><text x="538.00" y="497.56" font-size="16.58" font-weight="500" fill="#111" stroke="#111" stroke-width="0.12" textLength="33.36" lengthAdjust="spacing">上方</text></g>
<text x="624.99" y="680.67" font-size="15.3" font-weight="500" fill="#111" stroke="#111" stroke-width="0.11" textLength="32.29" lengthAdjust="spacing">后方</text>
<g transform="translate(405,717.5) skewY(14.5) translate(-405,-717.5)"><text x="388.78" y="724.12" font-size="17.44" font-weight="500" fill="#111" stroke="#111" stroke-width="0.12" textLength="34.08" lengthAdjust="spacing">左侧</text></g>
<g transform="translate(568.5,749) skewY(11.5) translate(-568.5,-749)"><text x="552.12" y="755.90" font-size="17.65" font-weight="500" fill="#111" stroke="#111" stroke-width="0.12" textLength="34.15" lengthAdjust="spacing">右侧</text></g>
<g transform="translate(475,848) skewY(9) skewX(-27) translate(-475,-848)"><text x="446.67" y="853.71" font-size="14.65" font-weight="500" fill="#1c1c1c" textLength="56.5" lengthAdjust="spacing">前方开阔</text></g>
<rect x="348.6" y="976" width="308.4" height="289.2" rx="8" fill="#faf9f7" stroke="#1e1e1e" stroke-width="2"/><line x1="411.5" y1="976" x2="411.5" y2="1265" stroke="#1e1e1e" stroke-width="2"/><line x1="510.2" y1="976" x2="510.2" y2="1265" stroke="#1e1e1e" stroke-width="2"/><line x1="411.5" y1="1007" x2="657" y2="1007" stroke="#1e1e1e" stroke-width="2"/><line x1="411.5" y1="1039.8" x2="657" y2="1039.8" stroke="#1e1e1e" stroke-width="2"/><line x1="411.5" y1="1072.4" x2="657" y2="1072.4" stroke="#1e1e1e" stroke-width="2"/><line x1="411.5" y1="1104.8" x2="657" y2="1104.8" stroke="#1e1e1e" stroke-width="2"/><line x1="411.5" y1="1170.2" x2="657" y2="1170.2" stroke="#1e1e1e" stroke-width="2"/><line x1="411.5" y1="1202.6" x2="657" y2="1202.6" stroke="#1e1e1e" stroke-width="2"/><line x1="411.5" y1="1235.2" x2="657" y2="1235.2" stroke="#1e1e1e" stroke-width="2"/><line x1="348.6" y1="1138" x2="657" y2="1138" stroke="#1e1e1e" stroke-width="2"/>
<text x="357.42" y="1050.67" font-size="22.2" fill="#222" textLength="45.25" lengthAdjust="spacing">产品</text>
<text x="357.46" y="1081.73" font-size="22.29" fill="#222" textLength="45.47" lengthAdjust="spacing">尺寸</text>
<text x="356.61" y="1196.04" font-size="23.09" fill="#222" textLength="46.1" lengthAdjust="spacing">安装</text>
<text x="356.90" y="1227.82" font-size="24.13" fill="#222" textLength="45.7" lengthAdjust="spacing">要求</text>
<text x="460.4" y="998.6" font-size="20.5" fill="#222" text-anchor="middle">W</text>
<text x="460.4" y="1032.4" font-size="20.5" fill="#222" text-anchor="middle">D</text>
<text x="447.6" y="1065" font-size="20.5" fill="#222" textLength="24.71" lengthAdjust="spacing">D1</text>
<text x="460.4" y="1096.6" font-size="20.5" fill="#222" text-anchor="middle">H</text>
<text x="447.6" y="1129" font-size="20.5" fill="#222" textLength="24.71" lengthAdjust="spacing">H1</text>
<text x="535.6" y="998.2" font-size="21" fill="#222" textLength="69.82" lengthAdjust="spacing">580mm</text>
<text x="535.6" y="1032.0" font-size="21" fill="#222" textLength="69.82" lengthAdjust="spacing">590mm</text>
<text x="535.6" y="1064.6" font-size="21" fill="#222" textLength="69.82" lengthAdjust="spacing">630mm</text>
<text x="535.6" y="1096.1999999999998" font-size="21" fill="#222" textLength="69.82" lengthAdjust="spacing">957mm</text>
<text x="535.6" y="1128.6" font-size="21" fill="#222" textLength="81.45" lengthAdjust="spacing">1340mm</text>
<text x="441.42" y="1162.83" font-size="19.18" fill="#222" textLength="36.41" lengthAdjust="spacing">上方</text>
<text x="441.86" y="1193.85" font-size="19.35" fill="#222" textLength="36.23" lengthAdjust="spacing">左侧</text>
<text x="441.80" y="1225.83" font-size="19.33" fill="#222" textLength="36.29" lengthAdjust="spacing">右侧</text>
<text x="441.79" y="1257.63" font-size="19.18" fill="#222" textLength="36.04" lengthAdjust="spacing">后方</text>
<text x="536" y="1164" font-size="21" fill="#222" textLength="58.19" lengthAdjust="spacing">20mm</text>
<text x="592.29" y="1163.16" font-size="19.1" fill="#222" textLength="37.67" lengthAdjust="spacing">以上</text>
<text x="536" y="1196.2" font-size="21" fill="#222" textLength="58.19" lengthAdjust="spacing">15mm</text>
<text x="592.29" y="1195.36" font-size="19.1" fill="#222" textLength="37.67" lengthAdjust="spacing">以上</text>
<text x="536" y="1228.6" font-size="21" fill="#222" textLength="58.19" lengthAdjust="spacing">15mm</text>
<text x="592.29" y="1227.76" font-size="19.1" fill="#222" textLength="37.67" lengthAdjust="spacing">以上</text>
<text x="536" y="1261" font-size="21" fill="#222" textLength="58.19" lengthAdjust="spacing">70mm</text>
<text x="592.29" y="1260.16" font-size="19.1" fill="#222" textLength="37.67" lengthAdjust="spacing">以上</text>
<text x="59.30" y="1322.9" font-size="20.7" fill="#222" textLength="515.95" lengthAdjust="spacing">注：以上产品尺寸，由产品整机左右、前后最高点</text>
<text x="59.30" y="1354.9" font-size="20.7" fill="#222" textLength="468.85" lengthAdjust="spacing">（含水管挂钩、电源线挂钩等配件）测量得出</text>
</svg>
</body></html>
